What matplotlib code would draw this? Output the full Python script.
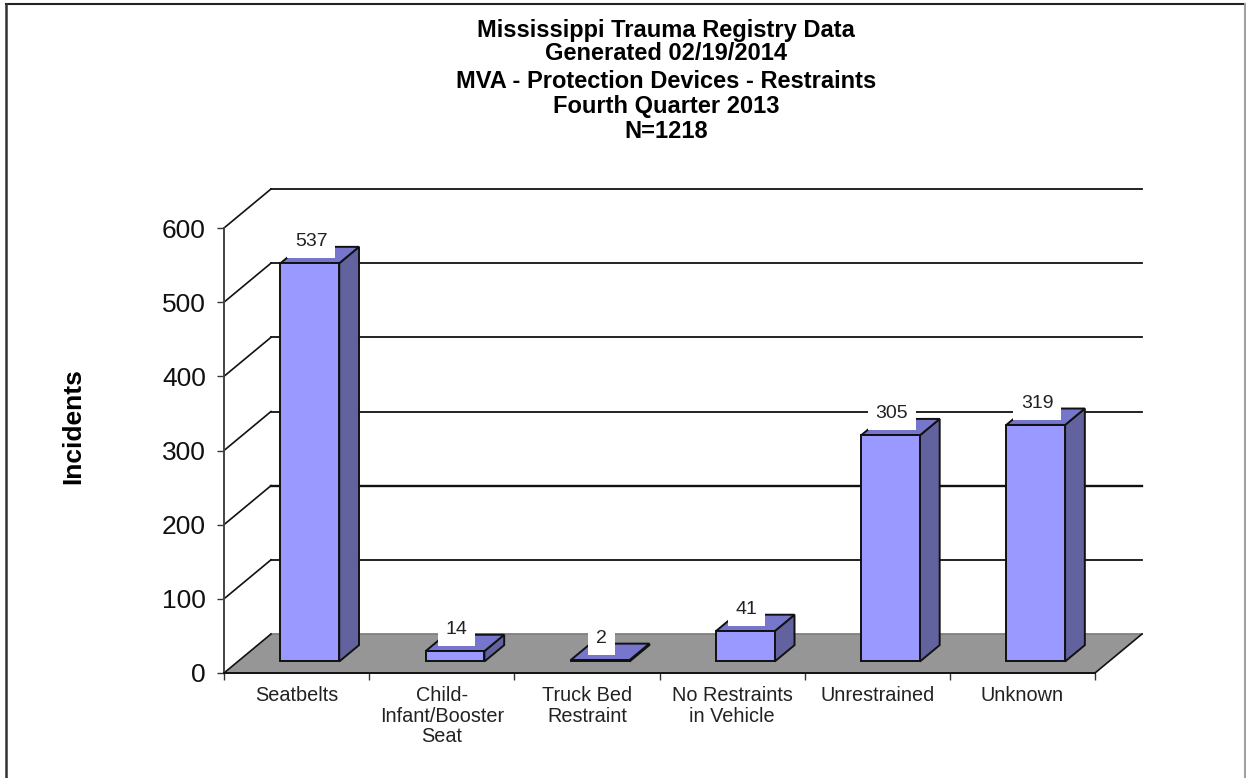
import numpy as np
import matplotlib
matplotlib.use('Agg')
import matplotlib.pyplot as plt
from matplotlib.lines import Line2D
from matplotlib.patches import Polygon

# data
categories = ['Seatbelts', 'Child-\nInfant/Booster\nSeat', 'Truck Bed\nRestraint',
              'No Restraints\nin Vehicle', 'Unrestrained', 'Unknown']
incidents = [537, 14, 2, 41, 305, 319]
y_ticks = [0, 100, 200, 300, 400, 500, 600]
title_lines = ['Mississippi Trauma Registry Data', 'Generated 02/19/2014',
               'MVA - Protection Devices - Restraints', 'Fourth Quarter 2013', 'N=1218']

plt.rcParams['font.family'] = ['Liberation Sans', 'DejaVu Sans']

W, H = 1246, 778
fig = plt.figure(figsize=(W / 100, H / 100), dpi=100)
ax = fig.add_axes([224 / W, (H - 673) / H, 871 / W, 445 / H])
ax.set_xlim(0, 6)
ax.set_ylim(0, 600)

# depth of the fake 3d box, in data units
depth_x = 47 / (871 / 6)
depth_y = 39 / (445 / 600)
bar_w = 0.405
bar_front = 0.295
bar_back = 0.715


def shift(x, y, d):
    return (x + d * depth_x, y + d * depth_y)


# floor
ax.add_patch(Polygon([(0, 0), (6, 0), shift(6, 0, 1), shift(0, 0, 1)], fc='#969696', ec='none', zorder=1, clip_on=False))

# wall gridlines
for v in y_ticks:
    x0, y0 = shift(0, v, 1)
    x1, y1 = shift(6, v, 1)
    col = '#808080' if v == 0 else '#111111'
    lw = 1.7 if v == 200 else 1.3
    ax.plot([x0, x1], [y0, y1], color=col, lw=lw, zorder=2, clip_on=False)
    ax.plot([0, x0], [v, y0], color='#111111', lw=1.2, zorder=2, clip_on=False)
x1, y1 = shift(6, 0, 1)
ax.plot([6, x1], [0, y1], color='#111111', lw=1.2, zorder=2, clip_on=False)

# bars
for i, v in enumerate(incidents):
    left = i + 0.5 - bar_w / 2 - 0.004
    right = left + bar_w
    bl = shift(left, 0, bar_front)
    br = shift(right, 0, bar_front)
    dz = depth_x * (bar_back - bar_front), depth_y * (bar_back - bar_front)
    side = [br, (br[0] + dz[0], br[1] + dz[1]), (br[0] + dz[0], br[1] + dz[1] + v), (br[0], br[1] + v)]
    top = [(bl[0], bl[1] + v), (br[0], br[1] + v), (br[0] + dz[0], br[1] + dz[1] + v), (bl[0] + dz[0], bl[1] + dz[1] + v)]
    front = [bl, br, (br[0], br[1] + v), (bl[0], bl[1] + v)]
    ax.add_patch(Polygon(side, fc='#62629F', ec='#111111', lw=1.4, zorder=3, clip_on=False))
    ax.add_patch(Polygon(top, fc='#7676CC', ec='#111111', lw=1.4, zorder=3, clip_on=False))
    ax.add_patch(Polygon(front, fc='#9999FF', ec='#111111', lw=1.4, zorder=3, clip_on=False))
    ax.annotate(str(v), ((bl[0] + br[0]) / 2, bl[1] + v), xytext=(1, 15.5), textcoords='offset points',
                ha='center', va='center', fontsize=14, color='#222222', zorder=4,
                bbox=dict(boxstyle='square,pad=0.4', fc='white', ec='none'))

# axes
for s in ['top', 'right']:
    ax.spines[s].set_visible(False)
ax.patch.set_visible(False)
ax.spines['left'].set_color('#444444')
ax.spines['left'].set_linewidth(1.4)
ax.spines['bottom'].set_color('#111111')
ax.spines['bottom'].set_linewidth(1.4)
ax.set_zorder(2)
ax.set_yticks(y_ticks)
ax.set_xticks(np.arange(7))
ax.set_xticklabels([''] * 7)
ax.set_xticks(np.arange(6) + 0.5, labels=categories, minor=True)
ax.tick_params(axis='x', which='major', length=5, width=1, color='#333333')
ax.tick_params(axis='x', which='minor', length=0, pad=9.5, labelsize=14.3, labelcolor='#222222')
for lab in ax.get_xticklabels(minor=True):
    lab.set_linespacing(1.1)
ax.tick_params(axis='y', length=5, width=1, color='#333333', pad=8, labelsize=19, labelcolor='#111111')
ax.set_ylabel('Incidents', fontsize=19, fontweight='bold', labelpad=0)
ax.yaxis.set_label_coords((85 - 224) / 871, (673 - 426) / 445)

# title
title_y = [30, 54, 82, 106, 131]
for line, y in zip(title_lines, title_y):
    fig.text(666 / W, 1 - y / H, line, ha='center', va='center', fontsize=17, fontweight='bold', color='black')

# outer frame, no line along the bottom edge
fig.add_artist(Line2D([6 / W, 1245 / W], [1 - 4 / H, 1 - 4 / H], color='#222222', lw=1.5))
fig.add_artist(Line2D([6 / W, 6 / W], [0, 1 - 4 / H], color='#333333', lw=1.8))
fig.add_artist(Line2D([1245 / W, 1245 / W], [0, 1 - 4 / H], color='#A0A0A0', lw=1.5))

fig.savefig('out.png', dpi=100)
